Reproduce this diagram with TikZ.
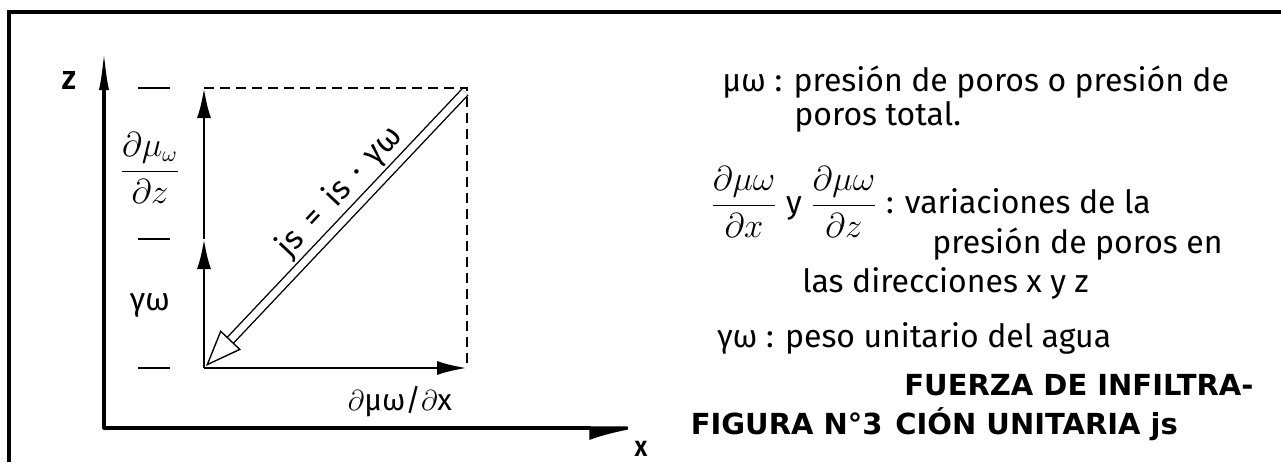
\documentclass[tikz,border=0pt]{standalone}
\usepackage{amsmath}
\usepackage{fontspec}
\setmainfont{Fira Sans}
\newfontfamily\titlefont{DejaVu Sans}
\usetikzlibrary{arrows.meta, positioning}

\begin{document}
\begin{tikzpicture}[x=0.5pt, y=-0.5pt,
    hand/.style={font=\fontsize{16}{18}\selectfont, inner sep=1pt},
    title/.style={font=\titlefont\fontsize{14.5}{16}\selectfont\bfseries, inner sep=1pt},
    vec/.style={line width=1.4pt, -{Latex[length=15pt, width=7pt]}},
    axis/.style={line width=1.6pt, line join=round},
    guide/.style={line width=0.6pt, dash pattern=on 5pt off 3pt}]

    \useasboundingbox (0,0) rectangle (1281,462);
    % frame
    \draw[line width=1.8pt] (9,462) -- (9,12) -- (1281,12);

    % axes
    \coordinate (ax) at (104,428);
    \coordinate (zt) at (104,50);
    \coordinate (xt) at (647,428);
    \draw[axis, {Latex[length=20pt, width=5pt]}-{Latex[right, length=24pt, width=12pt]}] (zt) -- (ax) -- (xt);
    \node[font=\fontsize{13}{13}\selectfont\bfseries] (zlbl) at (69,80) {Z};
    \node[font=\fontsize{11}{12}\selectfont\bfseries] (xlbl) at (641,449) {X};

    % ticks
    \foreach \yy in {88,239,368}
        \draw[line width=0.8pt] (138,\yy) -- (170,\yy);

    % vectors
    \coordinate (o) at (204,368);
    \coordinate (m) at (204,239);
    \coordinate (t) at (204,88);
    \coordinate (c) at (467,88);
    \coordinate (r) at (467,368);
    \draw[guide] (t) -- (c) -- (r);
    \draw[vec] (o) -- (m);
    \draw[vec] (m) -- (t);
    \draw[vec] (o) -- (r);
    \draw[line width=0.7pt, double distance=3.5pt, -{Triangle[open, length=18pt, width=14pt]}]
        ([shift={(-2,4)}]c) -- node[pos=0.42, sloped, above=2pt, hand]
        (jslbl) {js\hspace{0.45em}=\hspace{0.45em}is\hspace{0.4em}·\hspace{0.4em}γω} ([shift={(2,-2)}]o);

    \node[hand] (dmz) at (150,168) {$\dfrac{\partial\mu_\omega}{\partial z}$};
    \node[hand] (gw) at (150,305) {γω};
    \node[hand, font=\fontsize{15}{17}\selectfont] (dmx) at (400,402) {$\partial$μω/$\partial$x};

    % legend
    \node[hand, anchor=west] (l1) at (720,82) {μω : presión de poros o presión de};
    \node[hand, anchor=west] (l2) at (792,117) {poros total.};
    \node[hand, anchor=west] (l3) at (708,202) {$\dfrac{\partial\mu\omega}{\partial x}$ y $\dfrac{\partial\mu\omega}{\partial z}$ : variaciones de la};
    \node[hand, anchor=west] (l4) at (930,244) {presión de poros en};
    \node[hand, anchor=west] (l5) at (800,283) {las direcciones x y z};
    \node[hand, anchor=west] (l6) at (715,338) {γω : peso unitario del agua};

    % caption
    \node[title, anchor=west] (tit1) at (902,385) {FUERZA DE INFILTRA-};
    \node[title, anchor=west] (tit2) at (893,424) {CIÓN UNITARIA js};
    \node[title, left=4pt of tit2.west, anchor=east] (fig) {FIGURA N°3};
\end{tikzpicture}
\end{document}
